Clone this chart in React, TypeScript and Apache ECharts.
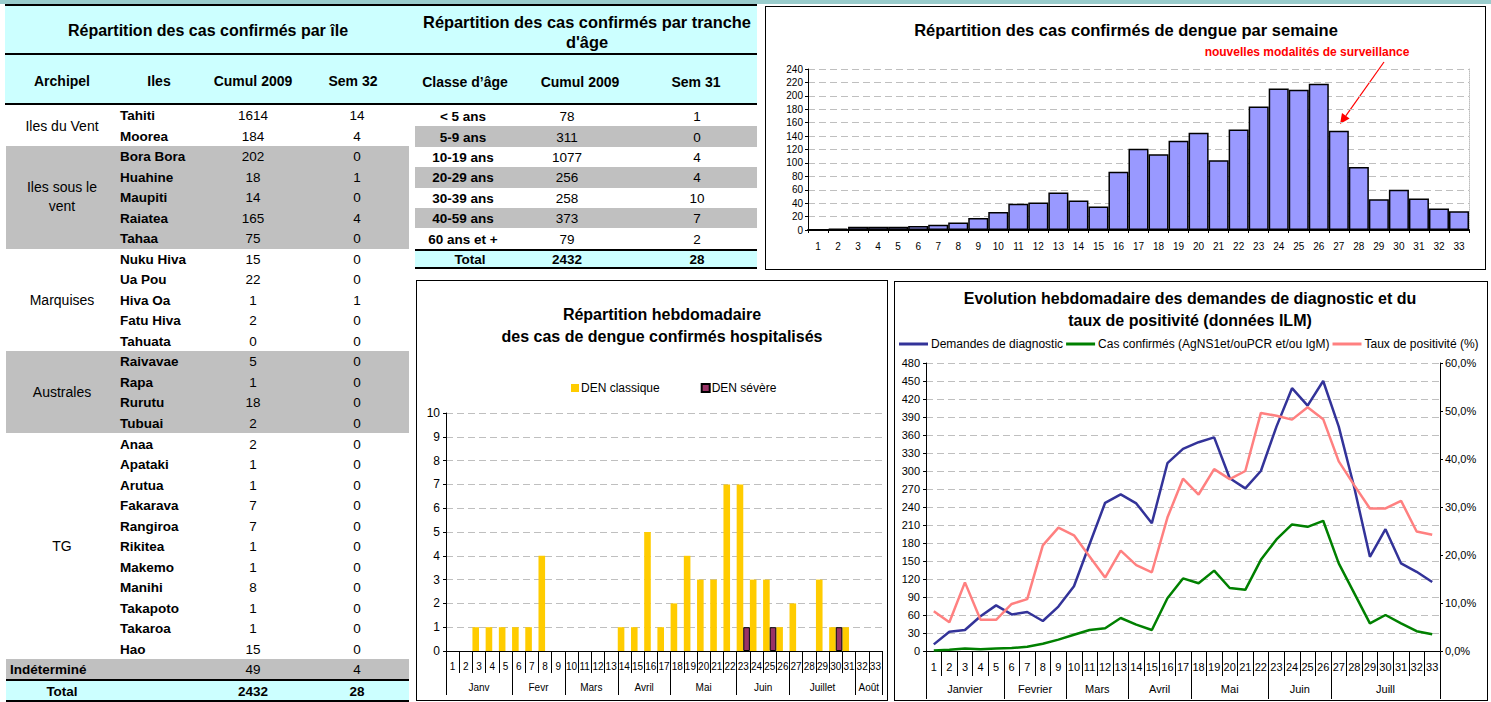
import React, { useEffect, useRef } from "react";
import * as echarts from "echarts";

const FONT = "'Liberation Sans', Arial, Helvetica, sans-serif";

// ---------------- DATA ----------------
const weekLabels = ["1","2","3","4","5","6","7","8","9","10","11","12","13","14","15","16","17","18","19","20","21","22","23","24","25","26","27","28","29","30","31","32","33"];

const weeklyConfirmed = [1,2,5,5,5,6,8,11,18,27,39,41,56,44,35,87,121,113,133,145,104,150,184,211,209,218,148,94,46,60,47,32,28];

const hospClassique = [null,null,1,1,1,1,1,4,null,null,null,null,null,1,1,5,1,2,4,3,3,7,7,3,3,1,2,null,3,1,1,null,null];
const hospSevere = [null,null,null,null,null,null,null,null,null,null,null,null,null,null,null,null,null,null,null,null,null,null,1,null,1,null,null,null,null,1,null,null,null];
const hospMonths = ["Janv","Fevr","Mars","Avril","Mai","Juin","Juillet","Août"];
const hospMonthBounds = [0,5,9,13,17,22,26,31,33];

const demandes = [11,32,35,58,76,61,65,50,74,108,178,247,261,246,213,313,337,348,356,288,271,300,374,438,409,450,374,272,157,203,146,132,115];
const confirmes = [1,2,4,3,4,5,7,12,19,27,35,38,55,44,35,88,121,113,134,105,102,152,186,211,207,217,146,96,46,60,46,33,28];
const taux = [8.3,6.0,14.3,6.5,6.5,9.8,10.8,22.0,25.7,24.1,19.7,15.3,20.9,17.9,16.4,27.8,35.9,32.6,37.9,35.8,37.5,49.6,49.0,48.2,50.8,48.3,39.5,34.5,29.7,29.7,31.3,24.9,24.2];
const ilmMonths = ["Janvier","Fevrier","Mars","Avril","Mai","Juin","Juill"];
const ilmMonthBounds = [0,5,9,13,17,22,26,33];

const archipels = ["Iles du Vent", "Iles sous le\nvent", "Marquises", "Australes", "TG"];
const archipelSizes = [2, 5, 5, 4, 11];
const islands = ["Tahiti","Moorea","Bora Bora","Huahine","Maupiti","Raiatea","Tahaa","Nuku Hiva","Ua Pou","Hiva Oa","Fatu Hiva","Tahuata","Raivavae","Rapa","Rurutu","Tubuai","Anaa","Apataki","Arutua","Fakarava","Rangiroa","Rikitea","Makemo","Manihi","Takapoto","Takaroa","Hao"];
const islandCumul = [1614,184,202,18,14,165,75,15,22,1,2,0,5,1,18,2,2,1,1,7,7,1,1,8,1,1,15];
const islandSem32 = [14,4,0,1,0,4,0,0,0,1,0,0,0,0,0,0,0,0,0,0,0,0,0,0,0,0,0];
const indetermine = { cumul: 49, sem: 4 };
const islandTotal = { cumul: 2432, sem: 28 };

const ageClasses = ["< 5 ans","5-9 ans","10-19 ans","20-29 ans","30-39 ans","40-59 ans","60 ans et +"];
const ageCumul = [78,311,1077,256,258,373,79];
const ageSem31 = [1,0,4,4,10,7,2];
const ageTotal = { cumul: 2432, sem: 28 };

// ---------------- HELPERS ----------------
const CYAN = "#CCFFFF";
const GRAY = "#C0C0C0";

function T(props: any) {
  const { x, y, children, align = "center", bold = false, size = 13.5, color = "#000" } = props;
  const tx = align === "center" ? "translate(-50%,-50%)" : align === "right" ? "translate(-100%,-50%)" : "translate(0,-50%)";
  return (
    <div style={{ position: "absolute", left: x, top: y, transform: tx, whiteSpace: "pre", textAlign: "center", fontFamily: FONT, fontSize: size, fontWeight: bold ? "bold" : "normal", color, lineHeight: "19px" }}>
      {children}
    </div>
  );
}
function R(props: any) {
  const { x, y, w, h, bg } = props;
  return <div style={{ position: "absolute", left: x, top: y, width: w, height: h, background: bg }} />;
}

function LeftTable() {
  const x0 = 5;
  const rowTop = 105.1, rowH = 20.51;
  const rects: any[] = [];
  const texts: any[] = [];
  rects.push(<R key="b0" x={x0} y={4} w={410} h={2} bg="#000" />);
  rects.push(<R key="c0" x={x0} y={6} w={410} h={47} bg={CYAN} />);
  rects.push(<R key="b1" x={x0} y={53} w={410} h={2} bg="#000" />);
  rects.push(<R key="c1" x={x0} y={55} w={410} h={48} bg={CYAN} />);
  rects.push(<R key="b2" x={x0} y={103} w={410} h={2} bg="#000" />);
  let start = 0;
  archipels.forEach((a, gi) => {
    const n = archipelSizes[gi];
    if (gi % 2 === 1) {
      rects.push(<R key={"g" + gi} x={6} y={rowTop + start * rowH} w={403} h={n * rowH} bg={GRAY} />);
    }
    texts.push(<T key={"a" + gi} x={62} y={rowTop + (start + n / 2) * rowH} size={14}>{a}</T>);
    start += n;
  });
  islands.forEach((isl, i) => {
    const cy = rowTop + (i + 0.5) * rowH;
    texts.push(<T key={"i" + i} x={120} y={cy} align="left" bold>{isl}</T>);
    texts.push(<T key={"n" + i} x={253} y={cy}>{String(islandCumul[i])}</T>);
    texts.push(<T key={"s" + i} x={357} y={cy}>{String(islandSem32[i])}</T>);
  });
  const ir = islands.length;
  rects.push(<R key="gi" x={6} y={rowTop + ir * rowH} w={403} h={rowH} bg={GRAY} />);
  const icy = rowTop + (ir + 0.5) * rowH;
  texts.push(<T key="it" x={10} y={icy} align="left" bold>Indéterminé</T>);
  texts.push(<T key="in" x={253} y={icy}>{String(indetermine.cumul)}</T>);
  texts.push(<T key="is" x={357} y={icy}>{String(indetermine.sem)}</T>);
  rects.push(<R key="tb0" x={6} y={679} w={403} h={2} bg="#000" />);
  rects.push(<R key="tc" x={6} y={681} w={403} h={19} bg={CYAN} />);
  rects.push(<R key="tb1" x={6} y={700} w={403} h={2} bg="#000" />);
  texts.push(<T key="tt" x={62} y={690.5} bold>Total</T>);
  texts.push(<T key="tn" x={253} y={690.5} bold>{String(islandTotal.cumul)}</T>);
  texts.push(<T key="ts" x={357} y={690.5} bold>{String(islandTotal.sem)}</T>);
  return (
    <>
      {rects}
      <T x={208} y={30} bold size={16}>Répartition des cas confirmés par île</T>
      <T x={62} y={81} bold size={14}>Archipel</T>
      <T x={159} y={81} bold size={14}>Iles</T>
      <T x={253} y={81} bold size={14}>Cumul 2009</T>
      <T x={353} y={81} bold size={14}>Sem 32</T>
      {texts}
    </>
  );
}

function AgeTable() {
  const x0 = 415, w = 342;
  const rowTop = 106, rowH = 20.4;
  const rects: any[] = [];
  const texts: any[] = [];
  rects.push(<R key="b0" x={x0} y={4} w={w} h={2} bg="#000" />);
  rects.push(<R key="c0" x={x0} y={6} w={w} h={47} bg={CYAN} />);
  rects.push(<R key="b1" x={x0} y={53} w={w} h={2} bg="#000" />);
  rects.push(<R key="c1" x={x0} y={55} w={w} h={48} bg={CYAN} />);
  rects.push(<R key="b2" x={x0} y={103} w={w} h={2} bg="#000" />);
  ageClasses.forEach((c, i) => {
    const top = rowTop + i * rowH;
    if (i % 2 === 1) rects.push(<R key={"g" + i} x={x0} y={top} w={w} h={rowH} bg={GRAY} />);
    const cy = top + rowH / 2;
    texts.push(<T key={"c" + i} x={463} y={cy} bold>{c}</T>);
    texts.push(<T key={"n" + i} x={567} y={cy}>{String(ageCumul[i])}</T>);
    texts.push(<T key={"s" + i} x={697} y={cy}>{String(ageSem31[i])}</T>);
  });
  rects.push(<R key="tb0" x={x0} y={249} w={w} h={2} bg="#000" />);
  rects.push(<R key="tc" x={x0} y={251} w={w} h={16} bg={CYAN} />);
  rects.push(<R key="tb1" x={x0} y={267} w={w} h={2} bg="#000" />);
  texts.push(<T key="tt" x={470} y={259} bold>Total</T>);
  texts.push(<T key="tn" x={567} y={259} bold>{String(ageTotal.cumul)}</T>);
  texts.push(<T key="ts" x={697} y={259} bold>{String(ageTotal.sem)}</T>);
  return (
    <>
      {rects}
      <T x={587} y={22} bold size={16.4}>Répartition des cas confirmés par tranche</T>
      <T x={587} y={42} bold size={16.4}>d'âge</T>
      <T x={465} y={82} bold size={14}>Classe d’âge</T>
      <T x={580} y={82} bold size={14}>Cumul 2009</T>
      <T x={696} y={82} bold size={14}>Sem 31</T>
      {texts}
    </>
  );
}

function EChart(props: any) {
  const { option, width, height } = props;
  const ref = useRef<HTMLDivElement>(null);
  useEffect(() => {
    const c = echarts.init(ref.current as HTMLDivElement, null, { renderer: "svg" });
    c.setOption(option);
    return () => c.dispose();
  }, []);
  return <div ref={ref} style={{ width, height }} />;
}

function Box(props: any) {
  const { x, y, w, h, option } = props;
  return (
    <div style={{ position: "absolute", left: x, top: y, width: w, height: h, border: "1px solid #000", boxSizing: "border-box", background: "#fff", overflow: "hidden" }}>
      <EChart option={option} width={w - 2} height={h - 2} />
    </div>
  );
}

const dashed = { lineStyle: { color: "#BFBFBF", type: [7, 4] as any, width: 1 } };

function monthAxis(months: string[], bounds: number[], tickLen: number, margin: number, fontSize: number) {
  const mids = months.map((_, i) => (bounds[i] + bounds[i + 1]) / 2);
  return {
    type: "value",
    min: 0,
    max: 33,
    position: "bottom",
    offset: 0,
    axisLine: { show: false },
    splitLine: { show: false },
    axisTick: { show: true, customValues: bounds, length: tickLen, lineStyle: { color: "#000", width: 1 } },
    axisLabel: {
      customValues: mids,
      formatter: (v: number) => {
        const k = mids.indexOf(v);
        return k >= 0 ? months[k] : "";
      },
      margin,
      fontSize,
      color: "#000",
      fontFamily: FONT,
    },
  };
}

// ---------- chart A: weekly confirmed ----------
const optionWeekly: any = {
  animation: false,
  textStyle: { fontFamily: FONT },
  title: {
    text: "Répartition des cas confirmés de dengue par semaine",
    left: 360,
    top: 12,
    padding: 0,
    textAlign: "center",
    textStyle: { fontSize: 16.5, fontWeight: "bold", color: "#000", fontFamily: FONT, lineHeight: 22 },
  },
  grid: { left: 42, top: 62, width: 661, height: 161 },
  xAxis: {
    type: "category",
    data: weekLabels,
    axisLine: { lineStyle: { color: "#000", width: 2 } },
    axisTick: { show: true, length: 3, interval: 0, lineStyle: { color: "#000" } },
    axisLabel: { interval: 0, fontSize: 10, color: "#000", margin: 11, fontFamily: FONT },
  },
  yAxis: [
    {
      type: "value",
      min: 0,
      max: 240,
      interval: 20,
      axisLine: { show: true, lineStyle: { color: "#000", width: 1 } },
      axisTick: { show: true, length: 3, lineStyle: { color: "#000" } },
      axisLabel: { fontSize: 10, color: "#000", margin: 5, fontFamily: FONT },
      splitLine: dashed,
    },
    {
      type: "value",
      min: 0,
      max: 240,
      interval: 20,
      position: "right",
      axisLine: { show: true, lineStyle: { color: "#BFBFBF", type: "dotted", width: 1 } },
      axisTick: { show: false },
      axisLabel: { show: false },
      splitLine: { show: false },
    },
  ],
  series: [
    {
      type: "bar",
      data: weeklyConfirmed,
      barCategoryGap: "0%",
      itemStyle: { color: "#9999FF", borderColor: "#000", borderWidth: 1.5 },
    },
  ],
  graphic: [
    {
      type: "text",
      x: 541,
      y: 45,
      style: { text: "nouvelles modalités de surveillance", fill: "#FF0000", font: "bold 12px " + FONT, textAlign: "center", textVerticalAlign: "middle" },
    },
    { type: "line", shape: { x1: 618, y1: 55, x2: 579.8, y2: 108.8 }, style: { stroke: "#FF0000", lineWidth: 1.2 } },
    { type: "polygon", shape: { points: [[574, 117], [583.6, 111.5], [576.0, 106.1]] }, style: { fill: "#FF0000" } },
  ],
};

// ---------- chart B: hospitalised ----------
const optionHosp: any = {
  animation: false,
  textStyle: { fontFamily: FONT },
  title: {
    text: "Répartition hebdomadaire\ndes cas de dengue confirmés hospitalisés",
    left: 245,
    top: 22,
    padding: 0,
    textAlign: "center",
    textStyle: { fontSize: 16, fontWeight: "bold", color: "#000", fontFamily: FONT, lineHeight: 22 },
  },
  legend: {
    left: 154,
    top: 101,
    padding: 0,
    itemWidth: 8,
    itemHeight: 8,
    itemGap: 41,
    icon: "rect",
    textStyle: { fontSize: 12, color: "#000", fontFamily: FONT, padding: [0, 0, 0, -3] },
    data: ["DEN classique", "DEN sévère"],
  },
  grid: { left: 29, top: 132, width: 436, height: 238 },
  xAxis: [
    {
      type: "category",
      data: weekLabels,
      axisLine: { lineStyle: { color: "#000", width: 1 } },
      axisTick: { show: true, length: 22, interval: 0, lineStyle: { color: "#000" } },
      axisLabel: { interval: 0, fontSize: 10, color: "#000", margin: 10, fontFamily: FONT },
    },
    monthAxis(hospMonths, hospMonthBounds, 44, 31, 10),
  ],
  yAxis: {
    type: "value",
    min: 0,
    max: 10,
    interval: 1,
    axisLine: { show: true, lineStyle: { color: "#000", width: 1 } },
    axisTick: { show: true, length: 3, lineStyle: { color: "#000" } },
    axisLabel: { fontSize: 12, color: "#000", margin: 6, fontFamily: FONT },
    splitLine: dashed,
  },
  series: [
    {
      name: "DEN classique",
      type: "bar",
      data: hospClassique,
      barGap: "0%",
      barCategoryGap: "0%",
      itemStyle: { color: "#FFCC00" },
    },
    {
      name: "DEN sévère",
      type: "bar",
      data: hospSevere,
      barGap: "0%",
      barCategoryGap: "0%",
      itemStyle: { color: "#993366", borderColor: "#000", borderWidth: 1 },
    },
  ],
};

// ---------- chart C: ILM ----------
const pctFmt = (v: number) => v.toFixed(1).replace(".", ",") + "%";
const optionIlm: any = {
  animation: false,
  textStyle: { fontFamily: FONT },
  title: {
    text: "Evolution hebdomadaire des demandes de diagnostic et du\ntaux de positivité (données ILM)",
    left: 295,
    top: 5,
    padding: 0,
    textAlign: "center",
    textStyle: { fontSize: 16, fontWeight: "bold", color: "#000", fontFamily: FONT, lineHeight: 22 },
  },
  legend: {
    left: 4,
    top: 56,
    padding: 0,
    width: 1400,
    itemWidth: 29,
    itemHeight: 3,
    itemGap: 3,
    icon: "rect",
    textStyle: { fontSize: 12, color: "#000", fontFamily: FONT, padding: [0, 0, 0, -2] },
    data: ["Demandes de diagnostic", "Cas confirmés (AgNS1et/ouPCR et/ou IgM)", "Taux de positivité (%)"],
  },
  grid: { left: 31, top: 81, width: 514, height: 288 },
  xAxis: [
    {
      type: "category",
      data: weekLabels,
      axisLine: { lineStyle: { color: "#000", width: 1 } },
      axisTick: { show: true, length: 25, interval: 0, lineStyle: { color: "#000" } },
      axisLabel: { interval: 0, fontSize: 11, color: "#000", margin: 10, fontFamily: FONT },
    },
    monthAxis(ilmMonths, ilmMonthBounds, 48, 32, 11),
  ],
  yAxis: [
    {
      type: "value",
      min: 0,
      max: 480,
      interval: 30,
      axisLine: { show: true, lineStyle: { color: "#000", width: 1 } },
      axisTick: { show: true, length: 3, lineStyle: { color: "#000" } },
      axisLabel: { fontSize: 11, color: "#000", margin: 6, fontFamily: FONT },
      splitLine: dashed,
    },
    {
      type: "value",
      min: 0,
      max: 60,
      interval: 10,
      position: "right",
      axisLine: { show: true, lineStyle: { color: "#000", width: 1 } },
      axisTick: { show: true, length: 3, lineStyle: { color: "#000" } },
      axisLabel: { fontSize: 11, color: "#000", margin: 5, fontFamily: FONT, formatter: pctFmt },
      splitLine: { show: false },
    },
  ],
  series: [
    { name: "Demandes de diagnostic", type: "line", data: demandes, yAxisIndex: 0, symbol: "none", lineStyle: { color: "#333399", width: 2.5 }, itemStyle: { color: "#333399" } },
    { name: "Cas confirmés (AgNS1et/ouPCR et/ou IgM)", type: "line", data: confirmes, yAxisIndex: 0, symbol: "none", lineStyle: { color: "#008000", width: 2.5 }, itemStyle: { color: "#008000" } },
    { name: "Taux de positivité (%)", type: "line", data: taux, yAxisIndex: 1, symbol: "none", lineStyle: { color: "#FF8080", width: 2.5 }, itemStyle: { color: "#FF8080" } },
  ],
};

export default function App() {
  return (
    <div style={{ position: "absolute", left: 0, top: 0, width: 1491, height: 702, background: "#fff", overflow: "hidden", fontFamily: FONT }}>
      <R x={0} y={0} w={1491} h={4} bg="#99CCCC" />
      <LeftTable />
      <AgeTable />
      <Box x={765} y={6} w={721} h={264} option={optionWeekly} />
      <Box x={416} y={280} w={472} h={421} option={optionHosp} />
      <Box x={894} y={281} w={594} h={420} option={optionIlm} />
    </div>
  );
}
